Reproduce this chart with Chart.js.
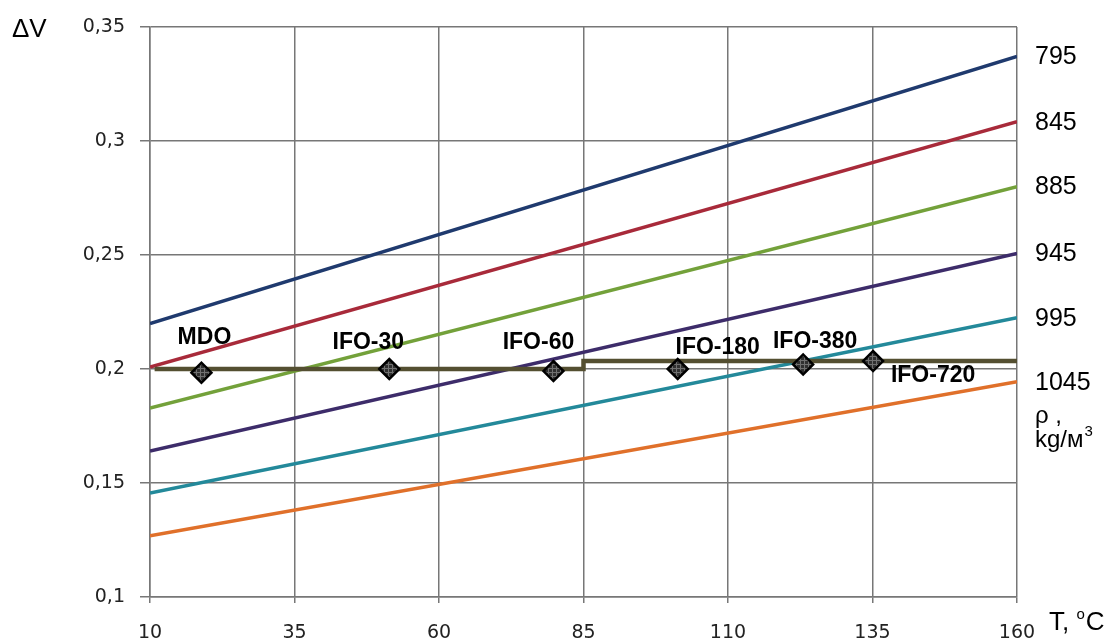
<!DOCTYPE html>
<html><head><meta charset="utf-8">
<script src="https://cdn.jsdelivr.net/npm/chart.js@4.4.1/dist/chart.umd.min.js"></script>
<style>html,body{margin:0;padding:0;background:#fff}#wrap{width:1111px;height:641px}</style>
</head><body><div id="wrap"><canvas id="c" width="1111" height="641"></canvas></div>
<script>
// ---- data ----
const temperatures = [10, 160];
const densityLabels = ['795', '845', '885', '945', '995', '1045'];
const dv795  = [0.2199, 0.3371];
const dv845  = [0.2009, 0.3085];
const dv885  = [0.1829, 0.2800];
const dv945  = [0.1640, 0.2507];
const dv995  = [0.1456, 0.2225];
const dv1045 = [0.1268, 0.1944];
const fuelNames = ['MDO', 'IFO-30', 'IFO-60', 'IFO-180', 'IFO-380', 'IFO-720'];
const fuelT  = [18.9, 51.4, 79.8, 101.3, 123.0, 135.1];
const fuelDV = [0.1984, 0.2000, 0.1991, 0.2000, 0.2020, 0.2035];
const limitT  = [10.8, 85, 85, 160];
const limitDV = [0.2000, 0.2000, 0.2035, 0.2035];
const xTicks = [10, 35, 60, 85, 110, 135, 160];
const yTicks = [0.1, 0.15, 0.2, 0.25, 0.3, 0.35];
const yTickLabels = ['0,1', '0,15', '0,2', '0,25', '0,3', '0,35'];

// ---- styles ----
const lineColors = ['#1f3a6e', '#a82a3a', '#73a13a', '#3d2c6a', '#23899a', '#e0702a'];
const labelOffsets = [[3, -35], [-21, -26], [-15, -28], [40, -21], [12, -23], [60, 15]];

function hatchPattern() {
  const p = document.createElement('canvas');
  p.width = 4; p.height = 4;
  const g = p.getContext('2d');
  g.fillStyle = '#303030'; g.fillRect(0, 0, 4, 4);
  g.fillStyle = '#707070';
  g.fillRect(0, 0, 1, 4); g.fillRect(0, 0, 4, 1);
  return g.createPattern(p, 'repeat');
}

const pts = (xs, ys) => xs.map((x, i) => ({x: x, y: ys[i]}));
const seriesValues = [dv795, dv845, dv885, dv945, dv995, dv1045];

const densityDatasets = seriesValues.map((vals, i) => ({
  label: densityLabels[i],
  data: pts(temperatures, vals),
  borderColor: lineColors[i],
  borderWidth: 3.5,
  pointRadius: 0,
  fill: false
}));

const bgPlugin = {
  id: 'bg',
  beforeDraw(chart) {
    const c = chart.ctx;
    c.save(); c.fillStyle = '#fff'; c.fillRect(0, 0, chart.width, chart.height); c.restore();
  }
};

const textPlugin = {
  id: 'texts',
  afterDatasetsDraw(chart) {
    const c = chart.ctx;
    const xs = chart.scales.x, ys = chart.scales.y;
    c.save();
    c.fillStyle = '#000';
    // fuel labels
    c.font = 'bold 23px "Liberation Sans", Arial, sans-serif';
    c.textAlign = 'center'; c.textBaseline = 'middle';
    fuelNames.forEach((n, i) => {
      const px = xs.getPixelForValue(fuelT[i]);
      const py = ys.getPixelForValue(fuelDV[i]);
      c.fillText(n, px + labelOffsets[i][0], py + labelOffsets[i][1]);
    });
    // density labels at line ends
    c.font = '25px "Liberation Sans", Arial, sans-serif';
    c.textAlign = 'left';
    seriesValues.forEach((vals, i) => {
      const py = ys.getPixelForValue(vals[vals.length - 1]);
      c.fillText(densityLabels[i], 1035, py + 1);
    });
    c.textBaseline = 'alphabetic';
    c.font = '24px "Liberation Sans", Arial, sans-serif';
    c.fillText('\u03c1 ,', 1035, 423);
    c.fillText('kg/\u043c', 1035, 447);
    const w = c.measureText('kg/\u043c').width;
    c.font = '15px "Liberation Sans", Arial, sans-serif';
    c.fillText('3', 1035 + w + 1, 436);
    // axis titles
    c.font = '26px "Liberation Sans", Arial, sans-serif';
    c.fillText('\u0394V', 12, 37);
    c.fillText('T, ', 1049, 630);
    const tw = c.measureText('T, ').width;
    c.font = '15px "Liberation Sans", Arial, sans-serif';
    c.fillText('o', 1049 + tw, 619);
    const ow = c.measureText('o').width;
    c.font = '26px "Liberation Sans", Arial, sans-serif';
    c.fillText('C', 1049 + tw + ow + 1, 630);
    c.restore();
  }
};

new Chart(document.getElementById('c'), {
  type: 'line',
  data: {
    datasets: [
      {
        label: 'fuels',
        data: pts(fuelT, fuelDV),
        showLine: false,
        pointStyle: 'rectRot',
        pointRadius: 10,
        pointBackgroundColor: hatchPattern(),
        pointBorderColor: '#000',
        pointBorderWidth: 2.5
      },
      {
        label: 'limit',
        data: pts(limitT, limitDV),
        borderColor: '#544f31',
        borderWidth: 4.5,
        pointRadius: 0,
        fill: false
      },
      ...densityDatasets
    ]
  },
  options: {
    responsive: false,
    animation: false,
    devicePixelRatio: 1,
    layout: {padding: {left: 0, right: 94, top: 27, bottom: 0}},
    plugins: {legend: {display: false}, tooltip: {enabled: false}},
    scales: {
      x: {
        type: 'linear', min: 10, max: 160,
        afterBuildTicks(s) { s.ticks = xTicks.map(v => ({value: v})); },
        afterFit(s) { s.height = 44; },
        grid: {color: '#777', lineWidth: 1.5, tickLength: 6},
        border: {color: '#777', width: 1.5},
        ticks: {color: '#222', font: {family: 'DejaVu Sans', size: 19}, padding: 19, maxRotation: 0}
      },
      y: {
        type: 'linear', min: 0.1, max: 0.35,
        afterBuildTicks(s) { s.ticks = yTicks.map(v => ({value: v})); },
        afterFit(s) { s.width = 150; },
        grid: {color: '#777', lineWidth: 1.5, tickLength: 10},
        border: {color: '#777', width: 1.5},
        ticks: {
          color: '#222', font: {family: 'DejaVu Sans', size: 19}, padding: 15,
          callback(v) {
            const i = yTicks.findIndex(t => Math.abs(t - v) < 1e-6);
            return i >= 0 ? yTickLabels[i] : '';
          }
        }
      }
    }
  },
  plugins: [bgPlugin, textPlugin]
});
</script>
</body></html>
